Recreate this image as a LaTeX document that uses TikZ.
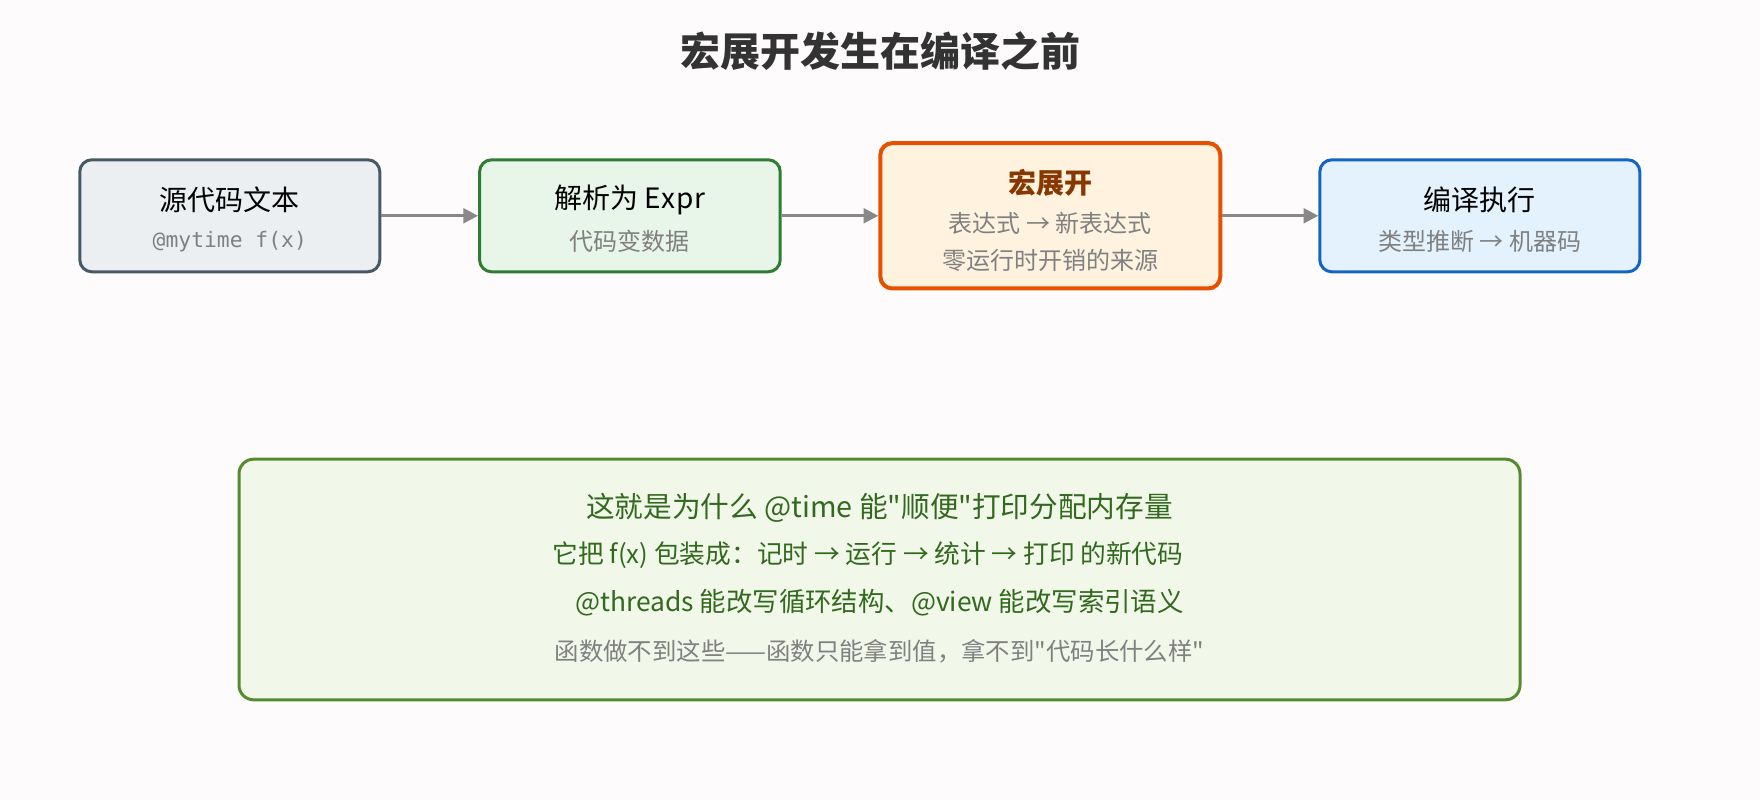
\documentclass[tikz,border=0pt]{standalone}
\usepackage{fontspec}
\setmainfont{Noto Sans CJK SC}[Ligatures=TeXOff]
\newfontfamily\monof{DejaVu Sans Mono}
\usetikzlibrary{arrows.meta}
\definecolor{bgc}{RGB}{253,251,251}
\definecolor{titlec}{RGB}{51,51,51}
\definecolor{subc}{RGB}{128,128,128}
\definecolor{arrc}{RGB}{136,136,136}
\definecolor{fillA}{RGB}{236,239,241}
\definecolor{drawA}{RGB}{69,90,100}
\definecolor{fillB}{RGB}{232,245,233}
\definecolor{drawB}{RGB}{46,125,50}
\definecolor{fillC}{RGB}{255,243,224}
\definecolor{drawC}{RGB}{230,81,0}
\definecolor{textC}{RGB}{135,55,0}
\definecolor{fillD}{RGB}{227,242,253}
\definecolor{drawD}{RGB}{21,101,192}
\definecolor{fillE}{RGB}{241,248,233}
\definecolor{drawE}{RGB}{85,139,47}
\definecolor{textE}{RGB}{51,105,30}
\tikzset{
  stagebox/.style={rounded corners=9pt, line width=2.25pt, inner sep=0pt},
  maintext/.style={font=\fontsize{21}{25}\selectfont, text=black, inner sep=0pt, anchor=center},
  subtext/.style={font=\fontsize{18}{22}\selectfont, text=subc, inner sep=0pt, anchor=center},
  notetext/.style={text=textE, inner sep=0pt, anchor=center},
  flow/.style={draw=arrc, line width=2.25pt, -{Triangle[length=11pt,width=11pt]}}
}
\begin{document}
\begin{tikzpicture}[x=0.75pt,y=-0.75pt]
\fill[bgc] (0,0) rectangle (1760,800);
\useasboundingbox (0,0) rectangle (1760,800);
% title
\node[font=\fontsize{30}{34}\selectfont\bfseries, text=titlec, inner sep=0pt] (title) at (880,51) {宏展开发生在编译之前};
% boxes
\node[stagebox, draw=drawA, fill=fillA, minimum width=225pt, minimum height=84pt] (b1) at (229.8,215.8) {};
\node[stagebox, draw=drawB, fill=fillB, minimum width=225.5pt, minimum height=84pt] (b2) at (629.9,215.8) {};
\node[stagebox, draw=drawC, fill=fillC, line width=3pt, minimum width=255pt, minimum height=109pt] (b3) at (1050.3,215.8) {};
\node[stagebox, draw=drawD, fill=fillD, minimum width=240pt, minimum height=84pt] (b4) at (1479.8,215.8) {};
% texts
\node[maintext] (t1a) at (229.8,200) {源代码文本};
\node[subtext, font=\monof\fontsize{16}{20}\selectfont] (t1b) at (229.8,241.5) {@mytime f(x)};
\node[maintext] (t2a) at (629.9,200) {解析为 E\kern0.5pt x\kern0.5pt p\kern0.5pt r};
\node[subtext] (t2b) at (629.9,241) {代码变数据};
\node[maintext, text=textC, font=\fontsize{21}{25}\selectfont\bfseries] (t3a) at (1050.3,183) {宏展开};
\node[subtext] (t3b) at (1050.3,223) {表达式 → 新表达式};
\node[subtext] (t3c) at (1050.3,260) {零运行时开销的来源};
\node[maintext] (t4a) at (1479.8,200) {编译执行};
\node[subtext] (t4b) at (1479.8,241) {类型推断 → 机器码};
% arrows
\draw[flow] (b1.east) -- (b2.west);
\draw[flow] (b2.east) -- (b3.west);
\draw[flow] (b3.east) -- (b4.west);
% bottom note
\node[stagebox, draw=drawE, fill=fillE, minimum width=960.75pt, minimum height=180.5pt, rounded corners=11pt] (note) at (879.5,579.5) {};
\node[notetext, font=\fontsize{21.5}{25}\selectfont] (n1) at (879.5,508) {这就是为什么 @time 能"顺便"打印分配内存量};
\node[notetext, font=\fontsize{19.3}{25}\selectfont] (n2) at (868,555) {它把 f(x) 包装成：记时 → 运行 → 统计 → 打印 的新代码};
\node[notetext, font=\fontsize{19.8}{25}\selectfont] (n3) at (879.5,603) {@threads 能改写循环结构、@view 能改写索引语义};
\node[subtext, font=\fontsize{18.3}{22}\selectfont] (n4) at (879.5,651.5) {函数做不到这些——函数只能拿到值，拿不到"代码长什么样"};
\end{tikzpicture}
\end{document}
